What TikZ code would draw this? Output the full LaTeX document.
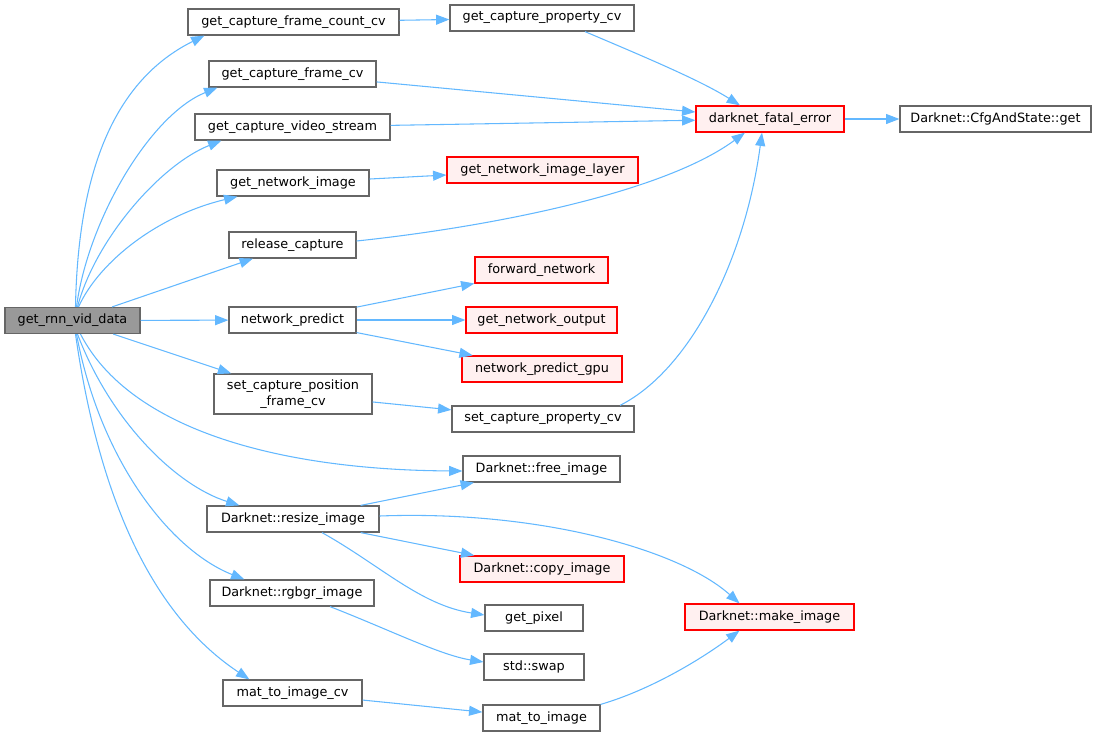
\documentclass[tikz,border=0pt]{standalone}
\usepackage{fontspec}
\setmainfont{DejaVu Sans}
\usetikzlibrary{arrows.meta,calc}
\definecolor{edgeblue}{HTML}{63B8FF}
\definecolor{graybd}{HTML}{666666}
\definecolor{redfill}{HTML}{FFF0F0}
\definecolor{mainfill}{HTML}{999999}
\begin{document}
\begin{tikzpicture}[x=0.75pt,y=-0.75pt,
  box/.style={draw=graybd,fill=white,line width=0.9pt,inner sep=0pt,minimum height=19.5pt,font=\fontsize{9.6}{11.5}\selectfont,align=center},
  redbox/.style={box,draw=red,fill=redfill},
  mainbox/.style={box,fill=mainfill},
  bw/.style={minimum width=#1*0.75pt},
  conn/.style={draw=edgeblue,line width=0.8pt,-{Triangle[length=10pt,width=7.5pt]}}]
\useasboundingbox (0,0) rectangle (1097,736);
% nodes
\node[mainbox,bw=135] (rnn) at (72.5,320.5) {get\_rnn\_vid\_data};
\node[box,bw=211] (gcfc) at (293.5,22) {get\_capture\_frame\_count\_cv};
\node[box,bw=167] (gcf) at (292.5,74) {get\_capture\_frame\_cv};
\node[box,bw=195] (gcvs) at (292.5,127) {get\_capture\_video\_stream};
\node[box,bw=152] (gni) at (293,183) {get\_network\_image};
\node[box,bw=127] (rc) at (292.5,245) {release\_capture};
\node[box,bw=127] (np) at (292.5,320) {network\_predict};
\node[box,bw=158,minimum height=30pt] (scpf) at (293,394) {set\_capture\_position\\\_frame\_cv};
\node[box,bw=172] (ri) at (293,519) {Darknet::resize\_image};
\node[box,bw=164] (rgb) at (292,593) {Darknet::rgbgr\_image};
\node[box,bw=139] (mic) at (292.5,693) {mat\_to\_image\_cv};
\node[box,bw=184] (gcp) at (542,18) {get\_capture\_property\_cv};
\node[redbox,bw=148] (dfe) at (770,119) {darknet\_fatal\_error};
\node[box,bw=191] (cfg) at (995.5,119) {Darknet::CfgAndState::get};
\node[redbox,bw=191] (gnil) at (542.5,170) {get\_network\_image\_layer};
\node[redbox,bw=133] (fn) at (541.5,270) {forward\_network};
\node[redbox,bw=151] (gno) at (541.5,320) {get\_network\_output};
\node[redbox,bw=160] (npg) at (542,369) {network\_predict\_gpu};
\node[box,bw=182] (scp) at (543,419) {set\_capture\_property\_cv};
\node[box,bw=157] (fi) at (541.5,469) {Darknet::free\_image};
\node[redbox,bw=164] (ci) at (542,569) {Darknet::copy\_image};
\node[box,bw=98] (gp) at (534,618) {get\_pixel};
\node[box,bw=100] (sw) at (534,667) {std::swap};
\node[box,bw=117] (mi) at (541.5,718) {mat\_to\_image};
\node[redbox,bw=169] (mk) at (769.5,617) {Darknet::make\_image};
% edges from rnn
\draw[conn] ($(rnn.north)+(3,0)$) .. controls (78,170) and (115,80) .. ($(gcfc.south west)+(17,0)$);
\draw[conn] ($(rnn.north)+(4,0)$) .. controls (88,220) and (150,115) .. ($(gcf.south west)+(9,0)$);
\draw[conn] ($(rnn.north)+(5,0)$) .. controls (95,240) and (160,165) .. ($(gcvs.south west)+(27,0)$);
\draw[conn] ($(rnn.north)+(6,0)$) .. controls (100,260) and (160,215) .. ($(gni.south west)+(21,0)$);
\draw[conn] (rnn) -- (rc);
\draw[conn] (rnn) -- (np);
\draw[conn] (rnn) -- (scpf);
\draw[conn] ($(rnn.south)+(8,0)$) .. controls (130,430) and (280,470) .. ($(fi.west)+(0,2)$);
\draw[conn] ($(rnn.south)+(5,0)$) .. controls (110,420) and (175,485) .. ($(ri.north west)+(33,0)$);
\draw[conn] ($(rnn.south)+(4,0)$) .. controls (100,460) and (170,550) .. ($(rgb.north west)+(35,0)$);
\draw[conn] ($(rnn.south)+(3,0)$) .. controls (105,540) and (175,630) .. ($(mic.north west)+(27,0)$);
% other edges
\draw[conn] (gcfc) -- (gcp);
\draw[conn] ($(gcp.south)+(43,0)$) .. controls (640,55) and (700,80) .. ($(dfe.north)+(-30,0)$);
\draw[conn] (gcf) -- (dfe);
\draw[conn] (gcvs) -- (dfe);
\draw[conn] (gni) -- (gnil);
\draw[conn] ($(rc.east)+(0,-4)$) .. controls (480,228) and (660,195) .. ($(dfe.south)+(-25,0)$);
\draw[conn] ($(scp.north)+(77,0)$) .. controls (690,370) and (745,260) .. ($(dfe.south)+(-8,0)$);
\draw[conn] (dfe) -- (cfg);
\draw[conn] (np) -- (fn);
\draw[conn] (np) -- (gno);
\draw[conn] (np) -- (npg);
\draw[conn] (scpf) -- (scp);
\draw[conn] (ri) -- (fi);
\draw[conn] (ri) -- (ci);
\draw[conn] ($(ri.south)+(29,0)$) .. controls (380,565) and (420,605) .. ($(gp.west)+(0,-3)$);
\draw[conn] ($(ri.east)+(0,-3)$) .. controls (540,510) and (680,550) .. ($(mk.north)+(-30,0)$);
\draw[conn] ($(rgb.south)+(38,0)$) .. controls (390,630) and (440,655) .. ($(sw.west)+(0,-5)$);
\draw[conn] (mic) -- (mi);
\draw[conn] (mi.north east) .. controls (650,690) and (700,660) .. ($(mk.south)+(-30,0)$);
\end{tikzpicture}
\end{document}
